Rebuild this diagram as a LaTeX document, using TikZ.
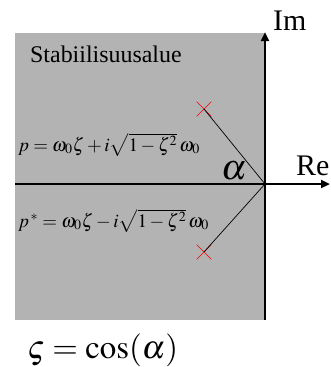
\documentclass[tikz,border=0pt]{standalone}
\usepackage{mathptmx}
\usepackage{fontspec}
\setmainfont{Liberation Serif}
\usetikzlibrary{shapes.misc,arrows.meta}
\definecolor{regiongray}{HTML}{B3B3B3}
\tikzset{
  axis/.style={line width=2.5bp,-{Triangle[length=9bp,width=8bp]}},
  pole/.style={cross out,draw=red,line width=0.7bp,minimum size=14bp,inner sep=0pt},
  radial/.style={line width=0.7bp},
  lbl/.style={inner sep=0pt,anchor=base west},
}
\begin{document}
\begin{tikzpicture}[x=1bp,y=-1bp]
\useasboundingbox (0,0) rectangle (331,367);
\fill[regiongray] (15,33) rectangle (265,320);
\coordinate (O) at (265,184);
\coordinate (xl) at (15,184);
\coordinate (xr) at (330,184);
\coordinate (yb) at (265,320);
\coordinate (yt) at (265,32);
\draw[axis] (xl) -- (xr);
\draw[axis] (yb) -- (yt);
\node[pole] (p1) at (204,109) {};
\node[pole] (p2) at (204,252) {};
\draw[radial] (O) -- (p1.center);
\draw[radial] (O) -- (p2.center);
\node[lbl,font=\fontsize{30}{30}\selectfont] (im) at (273,30) {Im};
\node[lbl,font=\fontsize{30}{30}\selectfont] (re) at (296,175) {Re};
\node[lbl,font=\fontsize{24}{24}\selectfont] (stab) at (30,62) {Stabiilisuusalue};
\node[lbl,font=\fontsize{36}{36}\selectfont] (alpha) at (221,179) {$\alpha$};
\node[lbl,font=\fontsize{19}{19}\selectfont] (peq) at (18,151) {$p=\omega_0\zeta+i\sqrt{1-\zeta^2}\,\omega_0$};
\node[lbl,font=\fontsize{19}{19}\selectfont] (pseq) at (18,227) {$p^{\,*}=\omega_0\zeta-i\sqrt{1-\zeta^2}\,\omega_0$};
\node[lbl,font=\fontsize{33}{33}\selectfont] (cos) at (27,358) {$\varsigma=\cos(\alpha)$};
\end{tikzpicture}
\end{document}
